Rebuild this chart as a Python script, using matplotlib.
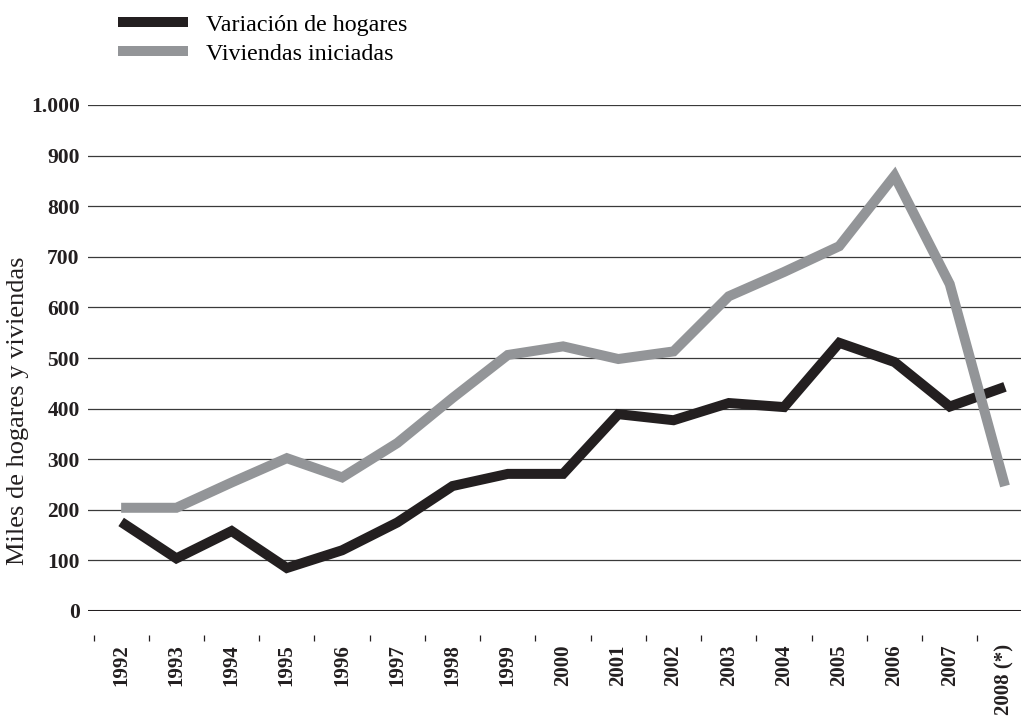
import matplotlib
matplotlib.use("Agg")
import matplotlib.pyplot as plt
import matplotlib.transforms as mtransforms

# data (miles)
years = ["1992", "1993", "1994", "1995", "1996", "1997", "1998", "1999", "2000",
         "2001", "2002", "2003", "2004", "2005", "2006", "2007", "2008 (*)"]
hogares = [176, 104, 158, 85, 120, 175, 247, 271, 271,
           389, 377, 411, 403, 530, 492, 404, 443]
viviendas = [204, 204, 254, 302, 264, 332, 421, 506, 523,
             498, 513, 622, 670, 721, 860, 646, 247]
yticks = [0, 100, 200, 300, 400, 500, 600, 700, 800, 900, 1000]
ytick_labels = ["0", "100", "200", "300", "400", "500", "600", "700", "800", "900", "1.000"]

plt.rcParams["font.family"] = ["Liberation Serif", "DejaVu Serif"]

fig = plt.figure(figsize=(10.21, 7.18), dpi=100)
ax = fig.add_axes([88 / 1021, 107 / 718, 1 - 88 / 1021, 506 / 718])

x = list(range(len(years)))
ax.plot(x, hogares, color="#231f20", lw=7.2, solid_joinstyle="miter",
        solid_capstyle="butt", label="Variación de hogares", zorder=3)
ax.plot(x, viviendas, color="#939598", lw=7.2, solid_joinstyle="miter",
        solid_capstyle="butt", label="Viviendas iniciadas", zorder=3)

ax.set_ylim(0, 1000)
ax.set_xlim(-0.6, 16.29)
ax.set_yticks(yticks)
ax.set_yticklabels(ytick_labels, fontsize=15.5, fontweight="bold", color="#231f20")
ax.tick_params(axis="y", length=0, pad=6)
ax.set_xticks(x)
ax.set_xticklabels(years, rotation=90, fontsize=15, fontweight="bold",
                   color="#231f20", va="top", ha="center")
ax.tick_params(axis="x", length=0, pad=24)

for v in yticks[1:]:
    ax.axhline(v, color="#3a3a3a", lw=0.9, zorder=1)
ax.axhline(0, color="#231f20", lw=2.2, zorder=2)
for s in ax.spines.values():
    s.set_visible(False)

# little separator marks between the year labels
trans = mtransforms.blended_transform_factory(ax.transData, ax.transAxes)
seps = [i - 0.5 for i in range(len(years))]
ax.vlines(seps, -0.06, -0.048, transform=trans, color="#231f20", lw=0.9, clip_on=False)

fig.text(18 / 1021, 1 - 411 / 718, "Miles de hogares y viviendas", rotation=90,
         fontsize=19, color="#231f20", ha="center", va="center")

fig.legend(loc="upper left", bbox_to_anchor=(118 / 1021, 1 - 14 / 718), frameon=False,
           fontsize=17.3, handlelength=2.9, handletextpad=0.75, labelspacing=0.3,
           borderpad=0, borderaxespad=0)

fig.savefig("out.png", dpi=100)
